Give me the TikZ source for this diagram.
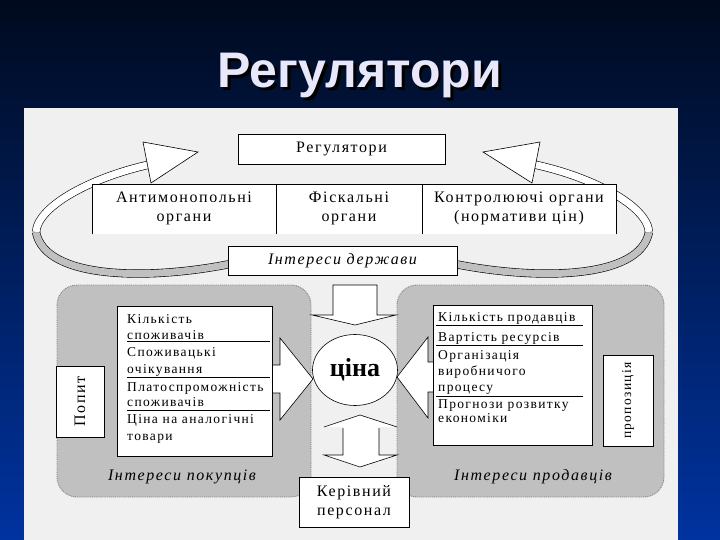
\documentclass[tikz,border=0pt]{standalone}
\usepackage{fontspec}
\setmainfont{Liberation Serif}
\newfontfamily\df[LetterSpace=10]{Liberation Serif}
\newfontfamily\tf{Liberation Sans}
\usetikzlibrary{shapes.geometric}
\definecolor{panel}{HTML}{F0F0F0}
\definecolor{boxgray}{HTML}{C0C0C0}
\definecolor{titlecol}{HTML}{E8E8FA}
\definecolor{bgtop}{HTML}{000A1E}
\definecolor{bgbot}{HTML}{0033A0}
\begin{document}
\begin{tikzpicture}[x=1pt, y=-1pt,
  wbox/.style={draw=black, fill=white, line width=0.6pt},
  bigtxt/.style={font=\df\fontsize{16}{19}\selectfont, align=center, inner sep=0pt},
  midtxt/.style={font=\df\fontsize{13.5}{16}\selectfont, align=center, inner sep=0pt},
  listtxt/.style={font=\df\fontsize{13.5}{16}\selectfont, anchor=base west, inner sep=0pt},
  ittxt/.style={font=\df\itshape\fontsize{16}{19}\selectfont, inner sep=0pt},
  gpanel/.style={fill=boxgray, draw=gray, densely dotted, line width=0.9pt, rounded corners=20pt},
  blockarrow/.style={draw=black, fill=white, line width=0.6pt, line join=miter},
  sepline/.style={draw=black, line width=0.6pt},
  ribbongray/.style={draw=black, line width=0.6pt, double=boxgray, double distance=7pt},
  ribbonwhite/.style={draw=black, line width=0.6pt, double=white, double distance=7pt},
  headtri/.style={draw=black, fill=white, line width=0.6pt, line join=miter},
  titletxt/.style={anchor=base, font=\tf\bfseries\fontsize{50}{50}\selectfont, inner sep=0}
]
% background
\shade[top color=bgtop, bottom color=bgbot] (0,0) rectangle (720,540);
\useasboundingbox (0,0) rectangle (720,540);
% title with shadow
\node[titletxt, text=black] (titleshadow) at (362.5,90.5) {Регулятори};
\node[titletxt, text=titlecol] (title) at (360,88) {Регулятори};
% panel
\fill[panel] (24,108) rectangle (678,540);
% gray interest panels
\path[gpanel] (57,285) rectangle (311,497);
\path[gpanel] (397,285) rectangle (664,497);
% ribbons
\coordinate (lr0) at (230,264);
\coordinate (lr1) at (36,232);
\coordinate (lr2) at (152,164);
\coordinate (rr0) at (455,264);
\coordinate (rr1) at (649,232);
\coordinate (rr2) at (532,164);
\draw[ribbongray] (lr0) .. controls (150,280) and (45,280) .. (lr1);
\draw[ribbonwhite] (lr1) .. controls (38,205) and (95,176) .. (lr2);
\draw[ribbongray] (rr0) .. controls (535,280) and (640,280) .. (rr1);
\draw[ribbonwhite] (rr1) .. controls (647,205) and (590,176) .. (rr2);
% row of regulators
\fill[white] (92,184) rectangle (616,234);
\draw[sepline] (92,234) -- (92,184) -- (616,184) -- (616,234);
\draw[sepline] (276,184) -- (276,234);
\draw[sepline] (422,184) -- (422,234);
\node[bigtxt] (anti) at (184,208) {Антимонопольні\\органи};
\node[bigtxt] (fisc) at (349,208) {Фіскальні\\органи};
\node[bigtxt] (ctrl) at (519,208) {Контролюючі органи\\(нормативи цін)};
% regulators box
\node[wbox, bigtxt, minimum width=207pt, minimum height=30pt] (reg) at (341.5,149) {Регулятори};
% state interests box
\node[wbox, ittxt, minimum width=229pt, minimum height=29pt] (state) at (342.5,260.5) {Інтереси держави};
% arrowheads of ribbons
\draw[headtri] (143,142) -- (198,152) -- (151,183) -- cycle;
\draw[headtri] (540,142) -- (483,152) -- (532,183) -- cycle;
% top down arrow
\draw[blockarrow] (333,285) -- (377,285) -- (377,315) -- (396,315) -- (355,325) -- (312,315) -- (333,315) -- cycle;
% bottom up-down arrow
\fill[white] (360,415) -- (397,427) -- (379,427) -- (379,455) -- (397,455) -- (360,467) -- (324,455) -- (343,455) -- (343,427) -- (324,427) -- cycle;
\draw[sepline, line join=miter] (324,427) -- (360,415) -- (397,427);
\draw[sepline, line join=miter] (343,428) -- (343,455) -- (324,455) -- (360,467) -- (397,455) -- (379,455) -- (379,428);
% side arrows
\draw[blockarrow] (272,365) -- (280,365) -- (280,338) -- (313,379) -- (280,420) -- (280,393) -- (272,393);
\draw[blockarrow] (433,362) -- (428,362) -- (428,337) -- (397,377) -- (428,418) -- (428,392) -- (433,392);
% price ellipse
\node[ellipse, draw=black, fill=white, line width=0.6pt, minimum width=85pt, minimum height=71pt, inner sep=0pt, font=\bfseries\fontsize{26}{26}\selectfont] (price) at (355,370) {ціна};
% buyers list box
\node[wbox, minimum width=155pt, minimum height=150pt, anchor=north west, inner sep=0] (blist) at (117,306) {};
\node[listtxt] (b1) at (127,323) {Кількість};
\node[listtxt] (b2) at (127,339) {споживачів};
\node[listtxt] (b3) at (127,356) {Споживацькі};
\node[listtxt] (b4) at (127,373) {очікування};
\node[listtxt] (b5) at (127,391) {Платоспроможність};
\node[listtxt] (b6) at (127,406) {споживачів};
\node[listtxt] (b7) at (127,423) {Ціна на аналогічні};
\node[listtxt] (b8) at (127,440) {товари};
\draw[sepline] (127,341) -- (270,341);
\draw[sepline] (127,377) -- (270,377);
\draw[sepline] (127,410) -- (270,410);
% sellers list box
\node[wbox, minimum width=159pt, minimum height=140pt, anchor=north west, inner sep=0] (slist) at (433,305) {};
\node[listtxt] (s1) at (438,321) {Кількість продавців};
\node[listtxt] (s2) at (438,341) {Вартість ресурсів};
\node[listtxt] (s3) at (438,359) {Організація};
\node[listtxt] (s4) at (438,375) {виробничого};
\node[listtxt] (s5) at (438,391) {процесу};
\node[listtxt] (s6) at (438,408) {Прогнози розвитку};
\node[listtxt] (s7) at (438,422) {економіки};
\draw[sepline] (436,325) -- (583,325);
\draw[sepline] (436,345) -- (583,345);
\draw[sepline] (436,396) -- (583,396);
% demand / supply boxes
\node[wbox, minimum width=48pt, minimum height=71pt, inner sep=0] (demand) at (80,401.5) {};
\node[bigtxt, rotate=90] at (demand.center) {Попит};
\node[wbox, minimum width=50pt, minimum height=91pt, inner sep=0] (supply) at (628,400.5) {};
\node[midtxt, rotate=90] at (supply.center) {пропозиція};
% interest labels
\node[ittxt] (buyers) at (182,477) {Інтереси покупців};
\node[ittxt] (sellers) at (533,477) {Інтереси продавців};
% management box
\node[wbox, bigtxt, minimum width=110pt, minimum height=50pt] (mgmt) at (354,502) {Керівний\\персонал};
\end{tikzpicture}
\end{document}
